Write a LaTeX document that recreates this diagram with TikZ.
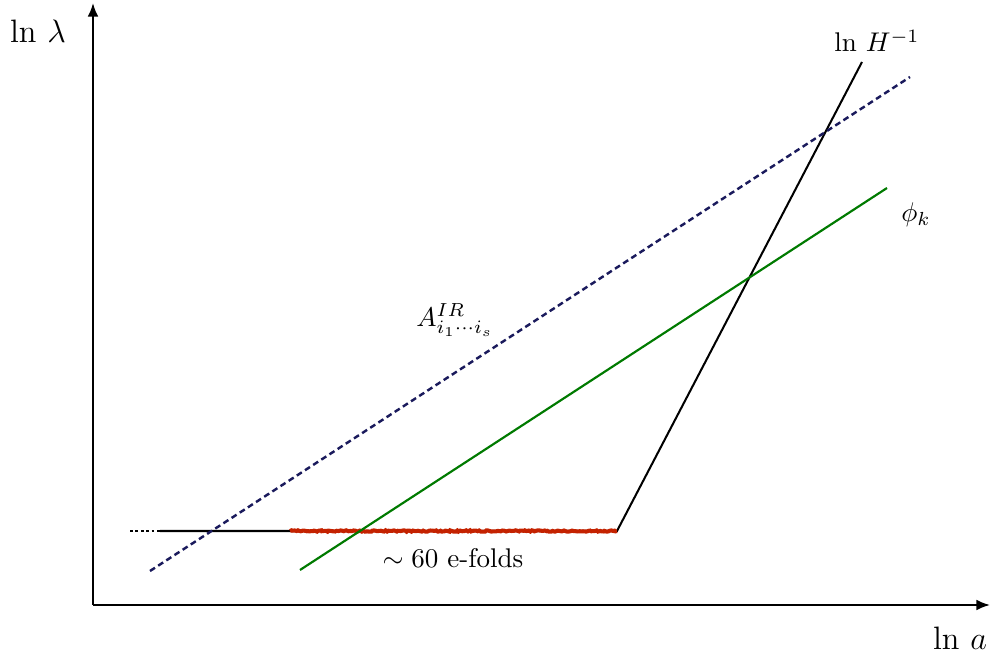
\documentclass[tikz,border=0pt]{standalone}
\usetikzlibrary{arrows.meta,decorations.pathmorphing}
\definecolor{navyd}{HTML}{1A1A5C}
\definecolor{greend}{HTML}{007A00}
\definecolor{redd}{HTML}{C42200}
\tikzset{
  axis/.style={line width=0.8pt,-{Latex[length=5pt,width=4pt]}},
  hline/.style={line width=0.75pt,black},
  labl/.style={inner sep=0pt},
}
\begin{document}
\begin{tikzpicture}[x=0.37pt,y=-0.37pt]
\useasboundingbox (0,0) rectangle (990,655);
% axes
\coordinate (O) at (93,605);
\coordinate (Ytop) at (93,3);
\coordinate (Xend) at (990,605);
\draw[axis] (O) -- (Ytop);
\draw[axis] (O) -- (Xend);
\node[labl] (ylab) at (38,31) {\large $\ln\,\lambda$};
\node[labl] (xlab) at (960,638) {\large $\ln\,a$};
% horizon line
\coordinate (h0) at (130,531);
\coordinate (h1) at (160,531);
\coordinate (r0) at (290,531);
\coordinate (h2) at (617,531);
\coordinate (h3) at (862,62);
\draw[hline,dash pattern=on 1pt off 1pt] (h0) -- (h1);
\draw[hline] (h1) -- (h2) -- (h3);
% e-folds
\draw[redd,line width=1.5pt,decorate,decoration={random steps,segment length=0.6pt,amplitude=0.25pt}] (r0) -- (h2);
% blue dashed
\coordinate (b0) at (150,571);
\coordinate (b1) at (910,77);
\draw[navyd,line width=0.9pt,dash pattern=on 2.2pt off 1.4pt] (b0) -- (b1);
% green
\coordinate (g0) at (300,570);
\coordinate (g1) at (887,188);
\draw[greend,line width=0.8pt] (g0) -- (g1);
% labels
\node[labl] (lH) at (877,41) {$\ln\,H^{-1}$};
\node[labl] (lA) at (455,320) {$A^{IR}_{i_1\cdots i_s}$};
\node[labl] (lphi) at (916,215) {$\phi_k$};
\node[labl] (lefold) at (453,558) {$\sim 60$ e-folds};
\end{tikzpicture}
\end{document}
